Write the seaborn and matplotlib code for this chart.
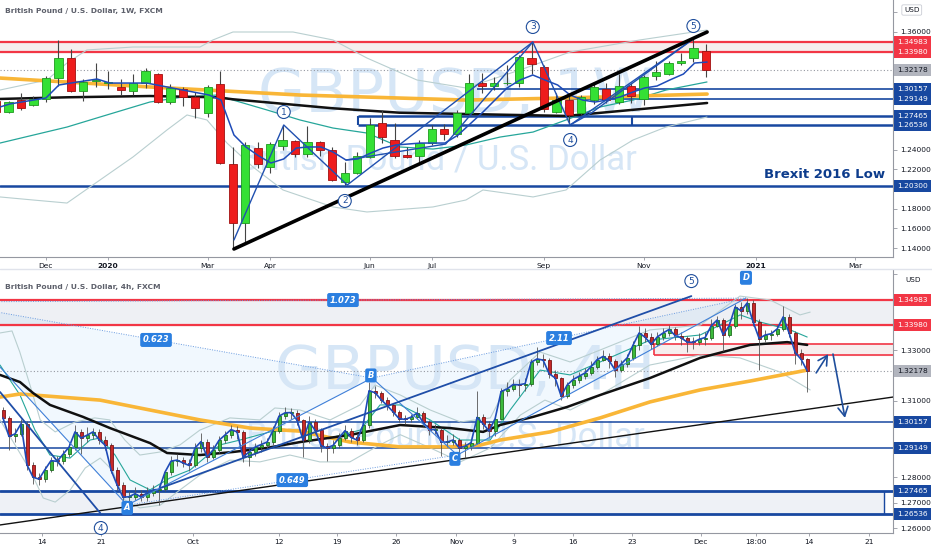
import numpy as np
import matplotlib
matplotlib.use("Agg")
import matplotlib.pyplot as plt
from matplotlib.lines import Line2D
from matplotlib.patches import Polygon
import seaborn as sns

# ---------------- weekly GBPUSD (top panel), week 0 = 2 Dec 2019 ----------------
w_idx = list(range(-4, 54))
w_open = [1.2900, 1.2785, 1.2907, 1.2856, 1.2918, 1.3131, 1.3335, 1.2999, 1.3105, 1.3085,
          1.3040, 1.2999, 1.3080, 1.3172, 1.2887, 1.3020, 1.2940, 1.2775, 1.3070, 1.2256,
          1.1655, 1.2418, 1.2225, 1.2439, 1.2490, 1.2357, 1.2480, 1.2398, 1.2072, 1.2164,
          1.2327, 1.2673, 1.2500, 1.2347, 1.2337, 1.2469, 1.2612, 1.2561, 1.2775, 1.3080,
          1.3050, 1.3080, 1.3080, 1.3335, 1.3243, 1.2785, 1.2907, 1.2775, 1.2907, 1.3020,
          1.2887, 1.3050, 1.2918, 1.3152, 1.3172, 1.3284, 1.3335, 1.3406]
w_close = [1.2790, 1.2887, 1.2826, 1.2918, 1.3131, 1.3335, 1.2999, 1.3091, 1.3115, 1.3091,
           1.3010, 1.3080, 1.3203, 1.2887, 1.3030, 1.2940, 1.2826, 1.3040, 1.2266, 1.1655,
           1.2449, 1.2256, 1.2459, 1.2500, 1.2357, 1.2480, 1.2398, 1.2093, 1.2164, 1.2337,
           1.2653, 1.2531, 1.2337, 1.2327, 1.2469, 1.2612, 1.2561, 1.2775, 1.3080, 1.3050,
           1.3080, 1.3085, 1.3345, 1.3274, 1.2816, 1.2907, 1.2755, 1.2938, 1.3040, 1.2907,
           1.3050, 1.2948, 1.3142, 1.3193, 1.3284, 1.3305, 1.3437, 1.3218]
w_high = [1.2935, 1.2900, 1.2979, 1.2948, 1.3150, 1.3518, 1.3427, 1.3121, 1.3284, 1.3203,
          1.3121, 1.3172, 1.3233, 1.3182, 1.3070, 1.3040, 1.2989, 1.3060, 1.3203, 1.2429,
          1.2480, 1.2480, 1.2480, 1.2653, 1.2500, 1.2643, 1.2490, 1.2429, 1.2276, 1.2378,
          1.2724, 1.2806, 1.2673, 1.2429, 1.2500, 1.2653, 1.2663, 1.2806, 1.3172, 1.3182,
          1.3142, 1.3264, 1.3366, 1.3498, 1.3264, 1.2979, 1.2948, 1.2958, 1.3070, 1.3080,
          1.3172, 1.3080, 1.3162, 1.3305, 1.3305, 1.3386, 1.3529, 1.3478]
w_low = [1.2770, 1.2770, 1.2805, 1.2846, 1.2890, 1.3050, 1.2989, 1.2897, 1.3040, 1.3019,
         1.2958, 1.2958, 1.3030, 1.2877, 1.2867, 1.2846, 1.2724, 1.2734, 1.2256, 1.1390,
         1.1451, 1.2215, 1.2164, 1.2398, 1.2327, 1.2327, 1.2337, 1.2080, 1.2042, 1.2154,
         1.2317, 1.2469, 1.2317, 1.2317, 1.2266, 1.2449, 1.2500, 1.2530, 1.2766, 1.2979,
         1.3009, 1.3060, 1.3040, 1.3172, 1.2785, 1.2775, 1.2663, 1.2755, 1.2867, 1.2877,
         1.2867, 1.2877, 1.2856, 1.3111, 1.3162, 1.3264, 1.3295, 1.3142]

# weekly indicator readings (week index, price)
w_ma_long_x = [-3.7, 8.35, 20.4, 33.7, 41.8, 53.1]
w_ma_long_y = [1.3131, 1.3040, 1.2958, 1.2907, 1.2928, 1.2968]
w_ma_mid_x = [-3.7, 1.7, 8.35, 13.7, 15.0, 23.05, 28.4, 33.7, 41.8, 53.1]
w_ma_mid_y = [1.2918, 1.2935, 1.2948, 1.2935, 1.2915, 1.2823, 1.2778, 1.2765, 1.2745, 1.2877]
w_fast_x = [-3.7, -2.9, 0, 1.04, 2.0, 4.1, 5.14, 8.1, 11.0, 13.1, 14.06, 15.1, 16.06, 17.1,
            18.07, 19.1, 20.1, 21.04, 22.09, 23.05, 24.1, 25.06, 26.1, 27.07, 28.1, 29.08,
            30.1, 31.08, 32.05, 33.1, 34.06, 35.1, 36.06, 37.03, 38.07, 39.1, 40.08, 41.1,
            42.1, 43.1, 44.1, 45.06, 46.1, 47.15, 48.1, 49.08, 50.1, 51.2, 52.1, 53.1]
w_fast_y = [1.2836, 1.2867, 1.2928, 1.3060, 1.3080, 1.3121, 1.3080, 1.3080, 1.3009, 1.2958,
            1.2907, 1.2551, 1.2429, 1.2337, 1.2266, 1.2307, 1.2418, 1.2429, 1.2429, 1.2378,
            1.2296, 1.2307, 1.2368, 1.2418, 1.2449, 1.2459, 1.2469, 1.2469, 1.2469, 1.2551,
            1.2663, 1.2785, 1.2907, 1.3030, 1.3111, 1.3162, 1.3111, 1.3060, 1.2958, 1.2907,
            1.2887, 1.2907, 1.2938, 1.2989, 1.3030, 1.3050, 1.3111, 1.3172, 1.3284, 1.3294]
w_bb_mid_x = [-3.69, 1.69, 4.34, 8.35, 11.0, 13.73, 15.02, 17.75, 20.4, 23.05, 25.78, 28.43,
              31.08, 33.73, 36.47, 39.12, 41.77, 44.5, 47.15, 49.8, 53.09]
w_bb_mid_y = [1.2469, 1.2632, 1.2734, 1.2887, 1.2938, 1.2958, 1.2907, 1.2806, 1.2704, 1.2622,
              1.2571, 1.2429, 1.2408, 1.2449, 1.2530, 1.2581, 1.2704, 1.2836, 1.2907, 1.3009, 1.3091]
w_bb_up_x = [-3.69, 0.08, 1.69, 3.29, 6.99, 12.37, 13.41, 15.02, 19.84, 23.05, 25.78, 29.8,
             33.73, 38.07, 42.09, 47.7, 53.09]
w_bb_up_y = [1.3009, 1.3111, 1.3284, 1.3417, 1.3447, 1.3447, 1.3519, 1.3600, 1.3600, 1.3519,
             1.3335, 1.3111, 1.3030, 1.3213, 1.3396, 1.3519, 1.3620]
w_bb_lo_x = [-3.69, -1.04, 1.69, 3.53, 6.99, 9.72, 11.33, 12.93, 14.54, 16.63, 19.04, 23.05,
             25.78, 31.08, 33.73, 35.1, 39.12, 41.77, 44.5, 47.15, 49.8, 53.09]
w_bb_lo_y = [1.1920, 1.1889, 1.1858, 1.2021, 1.2327, 1.2602, 1.2755, 1.2704, 1.2469, 1.2225,
             1.1991, 1.1818, 1.1767, 1.1818, 1.1889, 1.1991, 1.1920, 1.1991, 1.2296, 1.2500,
             1.2632, 1.2734]

# weekly drawings
w_wave_x = [15.1, 19.1, 24.2, 39.1, 42.1, 52.1]
w_wave_y = [1.1482, 1.2653, 1.2042, 1.3498, 1.2653, 1.3539]
w_wave_labels = ["1", "2", "3", "4", "5"]
w_wave_lab_x = [19.1, 24.0, 39.1, 42.1, 52.0]
w_wave_lab_y = [1.2785, 1.1879, 1.3651, 1.2500, 1.3661]
w_sub3_x = [24.1, 32.1, 39.1]
w_sub3_y = [1.2296, 1.2459, 1.3498]
w_sub5_x = [42.1, 43.8, 52.1]
w_sub5_y = [1.2653, 1.2775, 1.3539]
w_trend_x = [15.1, 53.1]
w_trend_y = [1.1390, 1.3600]

# ---------------- 4h GBPUSD (bottom panel), one candle per half day ----------------
h_first_open = 1.3064
h_close = [1.3033, 1.2960, 1.2970, 1.3010, 1.2848, 1.2800, 1.2792, 1.2830, 1.2865, 1.2862,
           1.2890, 1.2918, 1.2978, 1.2954, 1.2965, 1.2978, 1.2948, 1.2926, 1.2828, 1.2770,
           1.2721, 1.2723, 1.2735, 1.2722, 1.2738, 1.2750, 1.2752, 1.2820, 1.2863, 1.2867,
           1.2856, 1.2846, 1.2915, 1.2940, 1.2879, 1.2907, 1.2945, 1.2966, 1.2987, 1.2978,
           1.2879, 1.2899, 1.2918, 1.2928, 1.2938, 1.2983, 1.3040, 1.3053, 1.3054, 1.3024,
           1.2945, 1.3017, 1.2985, 1.2924, 1.2915, 1.2925, 1.2955, 1.2983, 1.2956, 1.2946,
           1.3005, 1.3140, 1.3132, 1.3105, 1.3082, 1.3057, 1.3030, 1.3027, 1.3036, 1.3052,
           1.3016, 1.2987, 1.2987, 1.2938, 1.2938, 1.2946, 1.2915, 1.2922, 1.2936, 1.3035,
           1.3010, 1.2981, 1.3030, 1.3137, 1.3147, 1.3164, 1.3163, 1.3168, 1.3252, 1.3265,
           1.3260, 1.3207, 1.3190, 1.3119, 1.3162, 1.3184, 1.3197, 1.3210, 1.3235, 1.3262,
           1.3275, 1.3258, 1.3221, 1.3245, 1.3269, 1.3320, 1.3367, 1.3350, 1.3322, 1.3351,
           1.3367, 1.3381, 1.3357, 1.3348, 1.3331, 1.3330, 1.3342, 1.3349, 1.3395, 1.3418,
           1.3360, 1.3395, 1.3469, 1.3454, 1.3485, 1.3410, 1.3345, 1.3359, 1.3364, 1.3383,
           1.3430, 1.3366, 1.3290, 1.3263, 1.3218]
h_high = [1.3075, 1.3040, 1.2995, 1.3030, 1.3020, 1.2860, 1.2815, 1.2845, 1.2880, 1.2885,
          1.2905, 1.2935, 1.3005, 1.2990, 1.2998, 1.2995, 1.2990, 1.2960, 1.2935, 1.2840,
          1.2780, 1.2745, 1.2760, 1.2750, 1.2760, 1.2770, 1.2770, 1.2830, 1.2885, 1.2890,
          1.2880, 1.2870, 1.2935, 1.2975, 1.2950, 1.2925, 1.2960, 1.2980, 1.3005, 1.3000,
          1.2985, 1.2915, 1.2935, 1.2945, 1.2955, 1.3000, 1.3055, 1.3075, 1.3070, 1.3065,
          1.3030, 1.3040, 1.3030, 1.2995, 1.2935, 1.2945, 1.2975, 1.3005, 1.2995, 1.2970,
          1.3020, 1.3175, 1.3160, 1.3140, 1.3115, 1.3090, 1.3065, 1.3045, 1.3050, 1.3075,
          1.3060, 1.3025, 1.3010, 1.2995, 1.2965, 1.2970, 1.2955, 1.2940, 1.2950, 1.3139,
          1.3050, 1.3020, 1.3045, 1.3150, 1.3175, 1.3185, 1.3185, 1.3190, 1.3265, 1.3310,
          1.3285, 1.3270, 1.3220, 1.3195, 1.3175, 1.3200, 1.3215, 1.3230, 1.3255, 1.3275,
          1.3300, 1.3290, 1.3265, 1.3260, 1.3285, 1.3335, 1.3395, 1.3385, 1.3365, 1.3370,
          1.3385, 1.3398, 1.3390, 1.3370, 1.3355, 1.3350, 1.3365, 1.3370, 1.3420, 1.3435,
          1.3425, 1.3410, 1.3480, 1.3490, 1.3504, 1.3495, 1.3420, 1.3380, 1.3380, 1.3400,
          1.3473, 1.3440, 1.3375, 1.3305, 1.3270]
h_low = [1.3015, 1.2905, 1.2940, 1.2960, 1.2830, 1.2775, 1.2768, 1.2780, 1.2820, 1.2845,
         1.2850, 1.2880, 1.2905, 1.2890, 1.2940, 1.2950, 1.2930, 1.2905, 1.2815, 1.2750,
         1.2700, 1.2695, 1.2710, 1.2705, 1.2705, 1.2725, 1.2692, 1.2745, 1.2810, 1.2845,
         1.2840, 1.2825, 1.2840, 1.2900, 1.2860, 1.2870, 1.2895, 1.2935, 1.2955, 1.2950,
         1.2860, 1.2845, 1.2885, 1.2900, 1.2915, 1.2925, 1.2975, 1.3030, 1.3030, 1.3005,
         1.2880, 1.2935, 1.2970, 1.2900, 1.2862, 1.2895, 1.2915, 1.2945, 1.2940, 1.2925,
         1.2940, 1.2995, 1.3110, 1.3090, 1.3065, 1.3040, 1.3015, 1.3010, 1.3015, 1.3030,
         1.3000, 1.2965, 1.2970, 1.2882, 1.2920, 1.2925, 1.2895, 1.2875, 1.2905, 1.2930,
         1.2990, 1.2955, 1.2960, 1.3025, 1.3120, 1.3140, 1.3120, 1.3140, 1.3160, 1.3240,
         1.3235, 1.3190, 1.3160, 1.3105, 1.3110, 1.3150, 1.3170, 1.3185, 1.3200, 1.3225,
         1.3255, 1.3230, 1.3195, 1.3215, 1.3235, 1.3260, 1.3300, 1.3330, 1.3305, 1.3315,
         1.3340, 1.3355, 1.3340, 1.3320, 1.3292, 1.3305, 1.3320, 1.3320, 1.3340, 1.3390,
         1.3295, 1.3350, 1.3385, 1.3420, 1.3440, 1.3395, 1.3222, 1.3330, 1.3340, 1.3355,
         1.3375, 1.3350, 1.3245, 1.3240, 1.3135]

h_ma_long_x = [-0.5, 2.83, 16.17, 24.5, 32.83, 41.17, 49.5, 57.83, 66.17, 74.5, 79.5, 82.83,
               91.17, 99.5, 107.83, 116.17, 124.5, 134]
h_ma_long_y = [1.3115, 1.3127, 1.3103, 1.3064, 1.3025, 1.2993, 1.2981, 1.2938, 1.2919, 1.2919,
               1.2926, 1.2946, 1.2978, 1.3033, 1.3096, 1.3143, 1.3178, 1.3221]
h_ma_mid_x = [-0.5, 2.83, 5, 7.83, 13.33, 17.83, 24.5, 27.33, 32.83, 38.33, 44, 49.5, 57.83,
              66.17, 74.5, 80, 82.83, 88.33, 94, 99.5, 107.83, 116.17, 124.5, 130.67, 134]
h_ma_mid_y = [1.3202, 1.3174, 1.3131, 1.3084, 1.3037, 1.2993, 1.2934, 1.2895, 1.2887, 1.2899,
              1.2915, 1.2938, 1.2966, 1.3005, 1.2993, 1.2978, 1.3005, 1.3037, 1.3076, 1.3123,
              1.3190, 1.3269, 1.3320, 1.3331, 1.3320]
h_bb_mid_x = [-0.5, 2.83, 5.33, 7.83, 11.17, 14.5, 16.17, 18.67, 21.17, 24.5, 27.83, 31.17,
              36.17, 39.5, 44.5, 49.5, 54.5, 59.5, 62.83, 66.17, 71.17, 76.17, 81.17, 84.5,
              89.5, 94.5, 99.5, 107.83, 116.17, 122.83, 126.17, 131.17, 134]
h_bb_mid_y = [1.3241, 1.3123, 1.2985, 1.2887, 1.2875, 1.2946, 1.2954, 1.2887, 1.2789, 1.2750,
              1.2797, 1.2828, 1.2927, 1.2946, 1.2978, 1.2985, 1.2954, 1.2985, 1.3084, 1.3084,
              1.3025, 1.2946, 1.2946, 1.3064, 1.3221, 1.3202, 1.3253, 1.3339, 1.3359, 1.3438,
              1.3410, 1.3379, 1.3351]
h_bb_up_x = [-0.5, 1.5, 2.8, 4.5, 6.2, 8.7, 12, 15.3, 17.8, 20.3, 22.8, 26.2, 29.5, 32.8, 37.8,
             42.8, 45.3, 49.5, 54.5, 59.5, 62, 66.2, 71.2, 76.2, 81.2, 84.5, 89.5, 94.5, 99.5,
             107.8, 116.2, 122.8, 127.8, 132.8, 134.5]
h_bb_up_y = [1.3367, 1.3375, 1.3292, 1.3162, 1.3025, 1.2978, 1.3017, 1.3033, 1.3025, 1.2946,
             1.2887, 1.2899, 1.2927, 1.2985, 1.3033, 1.3025, 1.3072, 1.3064, 1.3025, 1.3084,
             1.3162, 1.3123, 1.3064, 1.3017, 1.3033, 1.3182, 1.3292, 1.3253, 1.3300, 1.3379,
             1.3398, 1.3512, 1.3497, 1.3438, 1.3449]
h_bb_lo_x = [-0.5, 2, 4.5, 6.7, 8.7, 11.2, 13.7, 16.2, 18.2, 20.3, 22.8, 26.2, 29.5, 32.8, 37.8,
             42.8, 47.8, 52.8, 57.8, 62.8, 66.2, 71.2, 76.2, 81.2, 86.2, 90.3, 94.5, 99.5,
             107.8, 116.2, 122.8, 129.5, 134.5]
h_bb_lo_y = [1.3025, 1.2927, 1.2828, 1.2718, 1.2702, 1.2750, 1.2836, 1.2875, 1.2828, 1.2710,
             1.2679, 1.2690, 1.2750, 1.2808, 1.2867, 1.2860, 1.2887, 1.2860, 1.2860, 1.2927,
             1.2967, 1.2915, 1.2860, 1.2915, 1.3044, 1.3103, 1.3064, 1.3123, 1.3241, 1.3280,
             1.3269, 1.3213, 1.3143]

# XABCD pattern points and wave lines on the 4h chart
xabcd_x = [-10.5, 20.7, 61.5, 75.7, 123.8]
xabcd_y = [1.3489, 1.2690, 1.3190, 1.2887, 1.3504]
ratio_labels = ["0.623", "0.649", "2.11", "1.073"]
h_wave_a_x = [-0.5, 16.2]
h_wave_a_y = [1.3135, 1.2659]
h_wave_b_x = [26.2, 114.7]
h_wave_b_y = [1.2757, 1.3512]
h_trend_x = [-0.5, 148.3]
h_trend_y = [1.2612, 1.3115]
h_arrow_up = [(135.5, 1.3210), (137.5, 1.3284)]
h_arrow_dn = [(138.3, 1.3284), (140.3, 1.3033)]

# price levels
lvl_red = [1.34983, 1.33980]
lvl_last = 1.32178
lvl_blue_mid = [1.30157, 1.29149]
lvl_blue_box = [1.27465, 1.26536]
lvl_brexit = 1.20300
h_red_box = (1.3280, 1.3324)

top_xticks = [0, 5, 13, 18, 26, 31, 40, 48, 57, 65]
top_xlabels = ["Dec", "2020", "Mar", "Apr", "Jun", "Jul", "Sep", "Nov", "2021", "Mar"]
bot_xticks = [6.5, 16.3, 31.7, 46.0, 55.7, 65.5, 75.5, 85.2, 95.0, 104.8, 116.3, 125.5, 134.3, 144.3]
bot_xlabels = ["14", "21", "Oct", "12", "19", "26", "Nov", "9", "16", "23", "Dec", "18:00", "14", "21"]
top_yticks = [1.14, 1.16, 1.18, 1.20, 1.22, 1.24, 1.26, 1.28, 1.30, 1.32, 1.34, 1.36, 1.38]
bot_yticks = [1.26, 1.27, 1.28, 1.29, 1.30, 1.31, 1.32, 1.33, 1.34, 1.35, 1.36]

RED = "#f23645"
NAVY = "#1848a0"
WAVE = "#1f4e9c"
ORANGE = "#f9b637"
TEAL = "#26a69a"
BAND = "#b9cfd0"
WM = "#d6e6f6"

sns.set_theme(style="white")
plt.rcParams['font.family'] = ['DejaVu Sans']

fig = plt.figure(figsize=(9.32, 5.5), dpi=100)
ax1 = fig.add_axes([0, 1 - 257 / 550, 893 / 932, 257 / 550])
ax2 = fig.add_axes([0, 17 / 550, 893 / 932, 263 / 550])


def sline(ax, x, y, color, lw, z=3, ls="-", alpha=1.0):
    sns.lineplot(x=x, y=y, ax=ax, color=color, lw=lw, zorder=z, linestyle=ls,
                 estimator=None, sort=False, legend=False, alpha=alpha)


def candles(ax, x, o, h, l, c, width, up, dn, up_edge, dn_edge, wick, wlw):
    x, o, h, l, c = [np.asarray(v, float) for v in (x, o, h, l, c)]
    h = np.maximum(h, np.maximum(o, c))
    l = np.minimum(l, np.minimum(o, c))
    rising = c >= o
    ax.vlines(x, l, h, color=wick, lw=wlw, zorder=5)
    body = np.maximum(np.abs(c - o), 0.0004)
    ax.bar(x, body, bottom=np.minimum(o, c), width=width,
           color=np.where(rising, up, dn), edgecolor=np.where(rising, up_edge, dn_edge),
           linewidth=0.6, zorder=6)


def price_tag(ax, y, fc, tc="white"):
    ax.text(1.0 + 4 / 893, y, f"{y:.5f}", transform=ax.get_yaxis_transform(), ha="left",
            va="center", fontsize=5.4, color=tc, clip_on=False, zorder=30,
            bbox=dict(boxstyle="square,pad=0.4", fc=fc, ec="none"))


def circ(ax, x, y, s):
    ax.text(x, y, s, ha="center", va="center", fontsize=6.5, color=WAVE, zorder=15,
            bbox=dict(boxstyle="circle,pad=0.22", fc="white", ec=WAVE, lw=0.8))


def tag(ax, x, y, s, clip=False):
    ax.text(x, y, s, ha="center", va="center", fontsize=6, color="white", style="italic",
            fontweight="bold", zorder=15, clip_on=clip,
            bbox=dict(boxstyle="round,pad=0.3,rounding_size=0.25", fc="#2b7fe0", ec="none"))


def style_axis(ax, xlim, ylim, yticks, hidden, gap, xticks, xlabels, bold=()):
    ax.set_xlim(*xlim)
    ax.set_ylim(*ylim)
    ax.set_xlabel("")
    ax.set_ylabel("")
    ax.yaxis.tick_right()
    ax.set_yticks(yticks)
    # tick labels that sit under a price tag are covered in the original
    labels = []
    for v in yticks:
        covered = min(abs(v - t) for t in hidden) < gap
        labels.append("" if covered else f"{v:.5f}")
    ax.set_yticklabels(labels)
    ax.set_xticks(xticks)
    ax.set_xticklabels(xlabels)
    for t in ax.get_xticklabels():
        if t.get_text() in bold:
            t.set_fontweight("bold")
    ax.tick_params(axis="y", labelsize=5.4, labelcolor="#131722", color="#9598a1",
                   length=3, width=0.6, pad=2, right=True, left=False)
    ax.tick_params(axis="x", labelsize=5.4, labelcolor="#131722", color="#9598a1",
                   length=2.5, width=0.6, pad=2, bottom=True)
    for s in ["top", "left"]:
        ax.spines[s].set_visible(False)
    for s in ["right", "bottom"]:
        ax.spines[s].set_color("#9598a1")
        ax.spines[s].set_linewidth(0.8)
    ax.set_facecolor("white")


# ======================= top: weekly =======================
top_xlim = (-3.69, 68.03)
ax1.text(0.5095, 0.6265, "GBPUSD, 1W", transform=ax1.transAxes, ha="center", va="center",
         fontsize=44, color=WM, zorder=0.6)
ax1.text(0.4894, 0.3774, "British Pound / U.S. Dollar", transform=ax1.transAxes, ha="center",
         va="center", fontsize=25, color=WM, zorder=0.6, family="Roboto")

ax1.axhspan(lvl_red[1], lvl_red[0], color="#f5eeee", zorder=0.5)
for y in lvl_red:
    ax1.axhline(y, color=RED, lw=1.6, zorder=2)
ax1.axhline(lvl_last, color="#9598a1", lw=0.8, ls=(0, (1, 2)), zorder=2)
ax1.hlines(lvl_blue_mid, 34.6, top_xlim[1], color=NAVY, lw=1.2, zorder=2)
ax1.hlines(lvl_blue_box, 25.06, top_xlim[1], color=NAVY, lw=1.8, zorder=2)
ax1.vlines([25.06, 47.07], lvl_blue_box[1], lvl_blue_box[0], color=NAVY, lw=1.5, zorder=2)
ax1.axhline(lvl_brexit, color=NAVY, lw=1.8, zorder=2)

sline(ax1, w_bb_up_x, w_bb_up_y, BAND, 0.8, z=2)
sline(ax1, w_bb_lo_x, w_bb_lo_y, BAND, 0.8, z=2)
sline(ax1, w_bb_mid_x, w_bb_mid_y, TEAL, 0.9, z=2.2)
sline(ax1, w_ma_long_x, w_ma_long_y, ORANGE, 2.6, z=3)
sline(ax1, w_ma_mid_x, w_ma_mid_y, "#111111", 1.8, z=3.2)
sline(ax1, w_fast_x, w_fast_y, "#1e4bb8", 1.1, z=7)

candles(ax1, w_idx, w_open, w_high, w_low, w_close, 0.66,
        "#35e035", "#ee1c1c", "#1f9a1f", "#a01010", "#444444", 0.8)

sline(ax1, w_wave_x, w_wave_y, "#2050b0", 1.0, z=8)
sline(ax1, w_sub3_x, w_sub3_y, "#2050b0", 1.0, z=8)
sline(ax1, w_sub5_x, w_sub5_y, "#2050b0", 1.0, z=8)
sline(ax1, w_trend_x, w_trend_y, "#000000", 2.6, z=9)
for s, x, y in zip(w_wave_labels, w_wave_lab_x, w_wave_lab_y):
    circ(ax1, x, y, s)

ax1.text(885 / 893, 1 - 175 / 257, "Brexit 2016 Low", transform=ax1.transAxes, ha="right",
         va="center", fontsize=9.5, fontweight="bold", color="#0d3c8c", zorder=15)
ax1.text(5 / 893, 1 - 11 / 257, "British Pound / U.S. Dollar, 1W, FXCM",
         transform=ax1.transAxes, ha="left", va="center", fontsize=5.4, color="#5d606b",
         fontweight="bold", zorder=20)

top_tags = lvl_red + [lvl_last] + lvl_blue_mid + lvl_blue_box + [lvl_brexit, 1.38]
style_axis(ax1, top_xlim, (1.13084, 1.39259), top_yticks, top_tags, 0.0072,
           top_xticks, top_xlabels, bold=("2020", "2021"))
for y in lvl_red:
    price_tag(ax1, y, RED)
price_tag(ax1, lvl_last, "#b2b5be", "#131722")
for y in lvl_blue_mid + lvl_blue_box + [lvl_brexit]:
    price_tag(ax1, y, NAVY)
ax1.text(1.0 + 11 / 893, 1 - 10 / 257, "USD", transform=ax1.transAxes, ha="left", va="center",
         fontsize=5.2, color="#131722", clip_on=False, zorder=31,
         bbox=dict(boxstyle="round,pad=0.3,rounding_size=0.2", fc="white", ec="#c9ccd4", lw=0.6))

# ======================= bottom: 4h =======================
bot_xlim = (-0.5, 148.3)
h_idx = list(range(len(h_close)))
h_open = [h_first_open] + h_close[:-1]

ax2.text(0.5207, 0.6084, "GBPUSD, 4H", transform=ax2.transAxes, ha="center", va="center",
         fontsize=44, color=WM, zorder=0.6)
ax2.text(0.4983, 0.365, "British Pound / U.S. Dollar", transform=ax2.transAxes, ha="center",
         va="center", fontsize=25, color=WM, zorder=0.6, family="Roboto")

ax2.axhspan(lvl_red[1], lvl_red[0], color="#eef0f4", zorder=0.4)
ax2.fill_between([bot_xlim[0], 146.8], lvl_blue_box[1], lvl_blue_box[0], color="#eef1f6", zorder=0.4)
px, py = xabcd_x, xabcd_y
ax2.add_patch(Polygon([(px[0], py[0]), (px[1], py[1]), (px[2], py[2])], closed=True,
                      fc="#2196f3", alpha=0.06, ec="none", zorder=0.5))
ax2.add_patch(Polygon([(px[2], py[2]), (px[3], py[3]), (px[4], py[4])], closed=True,
                      fc="#2196f3", alpha=0.06, ec="none", zorder=0.5))

for y in lvl_red:
    ax2.axhline(y, color=RED, lw=1.6, zorder=2)
ax2.axhline(lvl_last, color="#9598a1", lw=0.8, ls=(0, (1, 2)), zorder=2)
for y in lvl_blue_mid:
    ax2.axhline(y, color=NAVY, lw=1.1, zorder=2)
for y in lvl_blue_box:
    ax2.axhline(y, color=NAVY, lw=2.0, zorder=2)
ax2.vlines(146.8, lvl_blue_box[1], lvl_blue_box[0], color=NAVY, lw=1.0, zorder=2)
ax2.fill_between([108.5, bot_xlim[1]], h_red_box[0], h_red_box[1], color="#f6eeee", zorder=1)
ax2.hlines(h_red_box, 108.5, bot_xlim[1], color=RED, lw=1.2, zorder=2)
ax2.vlines(108.5, h_red_box[0], h_red_box[1], color=RED, lw=1.2, zorder=2)

sline(ax2, h_bb_up_x, h_bb_up_y, BAND, 0.8, z=2)
sline(ax2, h_bb_lo_x, h_bb_lo_y, BAND, 0.8, z=2)
sline(ax2, h_bb_mid_x, h_bb_mid_y, TEAL, 0.8, z=2.2)
sline(ax2, h_ma_long_x, h_ma_long_y, ORANGE, 2.6, z=3)
sline(ax2, h_ma_mid_x, h_ma_mid_y, "#111111", 1.8, z=3.2)
sline(ax2, h_trend_x, h_trend_y, "#111111", 1.0, z=3.3)

candles(ax2, h_idx, h_open, h_high, h_low, h_close, 0.5,
        "#3cba3c", "#c62828", "#1e6e1e", "#7a1515", "#555555", 0.6)
sline(ax2, h_idx, h_close, "#1e4bb8", 1.2, z=7)

# XABCD legs and ratio lines
sline(ax2, px, py, "#3f7fd8", 0.8, z=8)
for a, b in [(0, 2), (1, 3), (2, 4), (0, 4)]:
    sline(ax2, [px[a], px[b]], [py[a], py[b]], "#6a9be0", 0.7, z=8, ls=(0, (1, 1.5)))
for s, (a, b) in zip(ratio_labels, [(0, 2), (1, 3), (2, 4), (0, 4)]):
    tag(ax2, (px[a] + px[b]) / 2, (py[a] + py[b]) / 2, s)
sline(ax2, h_wave_a_x, h_wave_a_y, "#1f4ea8", 1.3, z=8)
sline(ax2, h_wave_b_x, h_wave_b_y, "#1f4ea8", 1.3, z=8)

tag(ax2, px[1], py[1] - 0.0011, "A")
tag(ax2, px[2] - 0.2, py[2] + 0.0010, "B")
tag(ax2, px[3] - 0.4, py[3] - 0.0015, "C")
tag(ax2, px[4], py[4] + 0.0080, "D", clip=True)
circ(ax2, 16.3, 1.2600, "4")
circ(ax2, 114.7, 1.3571, "5")

for (x0, y0), (x1, y1) in [h_arrow_up, h_arrow_dn]:
    ax2.annotate("", xy=(x1, y1), xytext=(x0, y0), zorder=9,
                 arrowprops=dict(arrowstyle="->,head_length=0.55,head_width=0.3",
                                 color=WAVE, lw=1.2, shrinkA=0, shrinkB=0))

ax2.text(5 / 893, 1 - 17 / 263, "British Pound / U.S. Dollar, 4h, FXCM",
         transform=ax2.transAxes, ha="left", va="center", fontsize=5.4, color="#5d606b",
         fontweight="bold", zorder=20)

bot_tags = lvl_red + [lvl_last] + lvl_blue_mid + lvl_blue_box + [1.36]
style_axis(ax2, bot_xlim, (1.25804, 1.36146), bot_yticks, bot_tags, 0.0028,
           bot_xticks, bot_xlabels)
for y in lvl_red:
    price_tag(ax2, y, RED)
price_tag(ax2, lvl_last, "#b2b5be", "#131722")
for y in lvl_blue_mid + lvl_blue_box:
    price_tag(ax2, y, NAVY)
ax2.text(1.0 + 12 / 893, 1 - 10 / 263, "USD", transform=ax2.transAxes, ha="left", va="center",
         fontsize=5.2, color="#131722", clip_on=False, zorder=31)

fig.add_artist(Line2D([0, 1], [1 - 269 / 550] * 2, transform=fig.transFigure,
                      color="#e0e3eb", lw=1.0))

fig.savefig("out.png", dpi=100, facecolor="white")
